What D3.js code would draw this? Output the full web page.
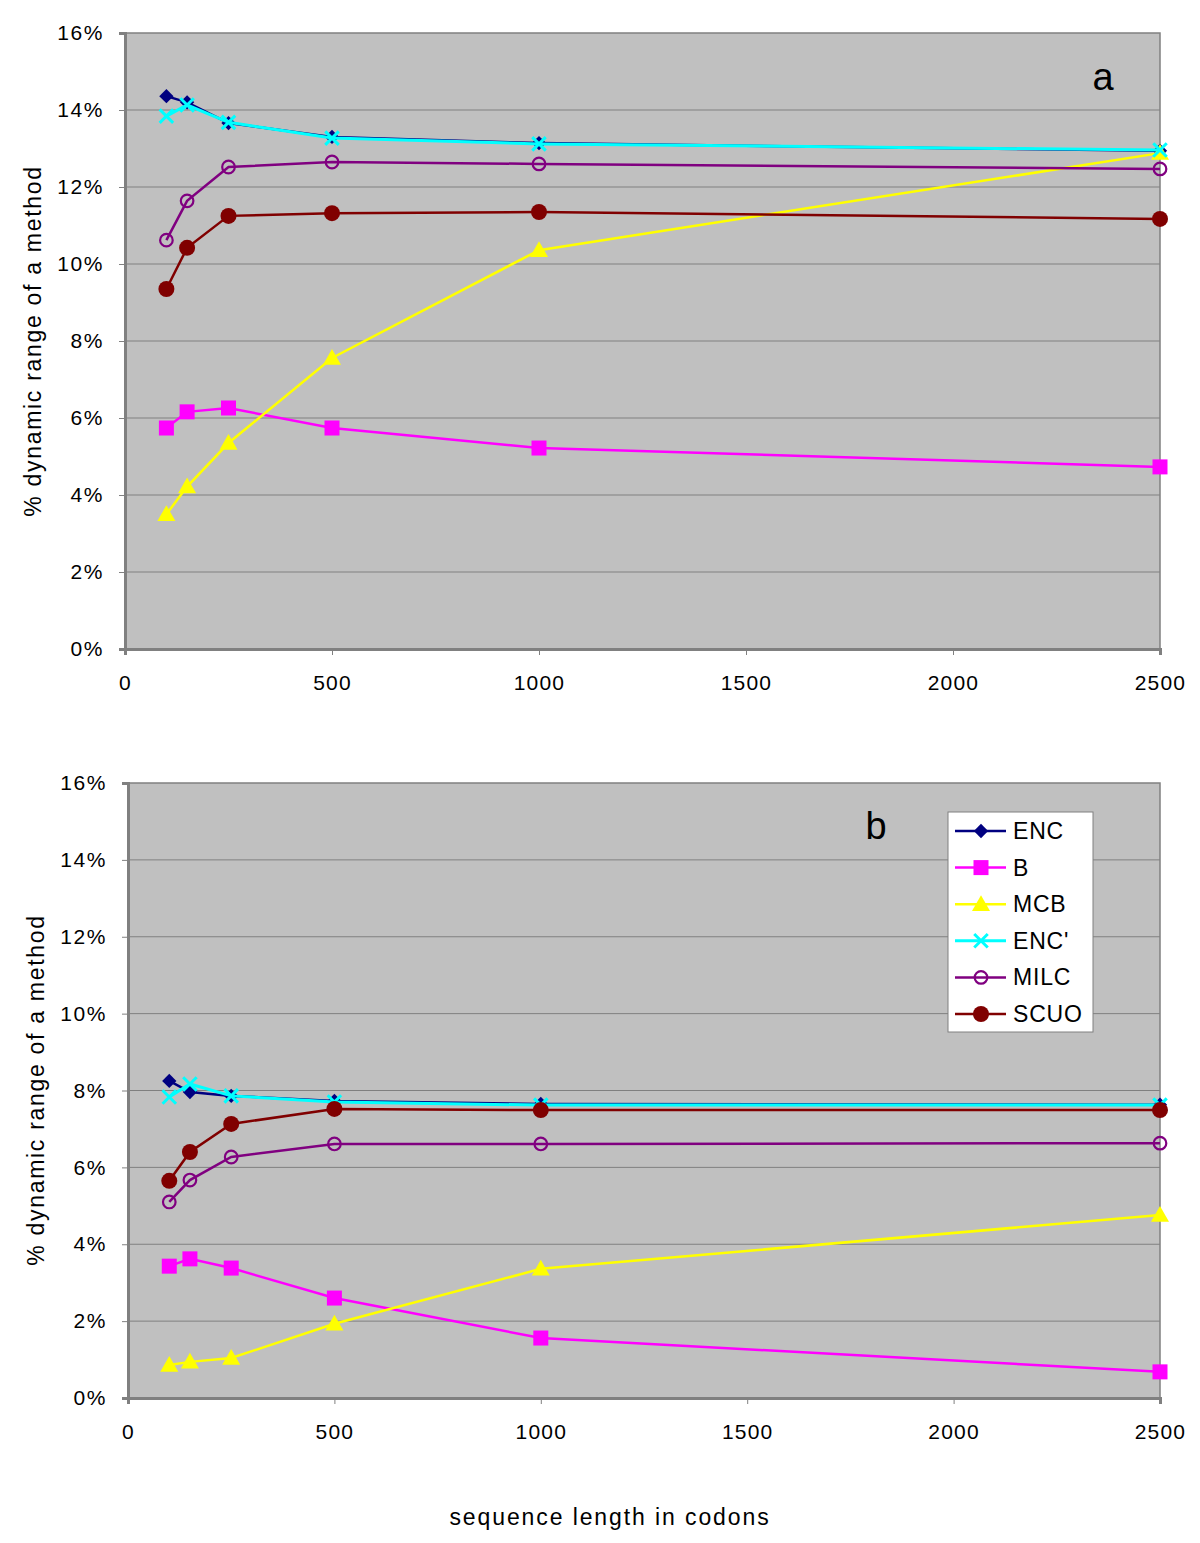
<!DOCTYPE html>
<html><head><meta charset="utf-8">
<script src="https://cdn.jsdelivr.net/npm/d3@7"></script>
<style>body{margin:0;background:#fff;} svg{display:block;font-family:"Liberation Sans",Arial,sans-serif;}</style>
</head><body>
<svg id="chart" width="1200" height="1543"></svg>
<script>
const xValues = [100, 150, 250, 500, 1000, 2500];
const xTicks = [0, 500, 1000, 1500, 2000, 2500];
const yTicks = [0, 2, 4, 6, 8, 10, 12, 14, 16];
const seriesNames = ["ENC", "B", "MCB", "ENC'", "MILC", "SCUO"];
const seriesColors = ["#000080", "#ff00ff", "#ffff00", "#00ffff", "#800080", "#800000"];
const seriesMarkers = ["diamond", "square", "triangle", "cross", "openCircle", "circle"];

// panel a values (%)
const encA  = [14.36, 14.20, 13.66, 13.30, 13.14, 12.94];
const bA    = [5.74, 6.16, 6.26, 5.74, 5.22, 4.73];
const mcbA  = [3.50, 4.22, 5.35, 7.56, 10.36, 12.88];
const encpA = [13.84, 14.13, 13.68, 13.27, 13.12, 12.96];
const milcA = [10.62, 11.64, 12.52, 12.65, 12.60, 12.47];
const scuoA = [9.35, 10.42, 11.25, 11.32, 11.35, 11.17];

// panel b values (%)
const encB  = [8.25, 7.96, 7.86, 7.73, 7.65, 7.63];
const bB    = [3.43, 3.62, 3.38, 2.60, 1.56, 0.68];
const mcbB  = [0.86, 0.94, 1.04, 1.93, 3.36, 4.76];
const encpB = [7.83, 8.17, 7.86, 7.70, 7.62, 7.62];
const milcB = [5.10, 5.67, 6.27, 6.61, 6.61, 6.63];
const scuoB = [5.65, 6.40, 7.13, 7.52, 7.49, 7.49];

const yTitle = "% dynamic range of a method";
const xTitle = "sequence length in codons";

const panels = [
  {label: "a", data: [encA, bA, mcbA, encpA, milcA, scuoA], box: {l:125, r:1160, t:33, b:649}, labelPos:[1103, 77], yTitlePos:[33, 341], legend:false},
  {label: "b", data: [encB, bB, mcbB, encpB, milcB, scuoB], box: {l:128, r:1160, t:783, b:1398}, labelPos:[876, 826], yTitlePos:[36, 1090], legend:true}
];

const svg = d3.select("#chart");
const FONT = "Liberation Sans, Arial, sans-serif";

function markerSize(type) {
  return type === "diamond" ? 13 : (type === "circle" ? 16 : (type === "openCircle" ? 15 : 15));
}

function drawMarker(g, type, x, y, color, s) {
  if (type === "diamond") {
    g.append("path").attr("d", `M${x},${y-s*0.55}L${x+s*0.55},${y}L${x},${y+s*0.55}L${x-s*0.55},${y}Z`).attr("fill", color);
  } else if (type === "square") {
    g.append("rect").attr("x", x - s*0.5).attr("y", y - s*0.5).attr("width", s).attr("height", s).attr("fill", color);
  } else if (type === "triangle") {
    g.append("path").attr("d", `M${x},${y-s*0.6}L${x+s*0.6},${y+s*0.45}L${x-s*0.6},${y+s*0.45}Z`).attr("fill", color);
  } else if (type === "cross") {
    const h = s*0.45;
    g.append("path").attr("d", `M${x-h},${y-h}L${x+h},${y+h}M${x-h},${y+h}L${x+h},${y-h}`).attr("stroke", color).attr("stroke-width", 3).attr("fill", "none");
  } else if (type === "openCircle") {
    g.append("circle").attr("cx", x).attr("cy", y).attr("r", s*0.42).attr("fill", "none").attr("stroke", color).attr("stroke-width", 2.2);
  } else if (type === "circle") {
    g.append("circle").attr("cx", x).attr("cy", y).attr("r", s*0.5).attr("fill", color);
  }
}

panels.forEach(p => {
  const B = p.box;
  const x = d3.scaleLinear().domain([0, 2500]).range([B.l, B.r]);
  const y = d3.scaleLinear().domain([0, 16]).range([B.b, B.t]);
  const g = svg.append("g");

  g.append("rect").attr("x", B.l).attr("y", B.t).attr("width", B.r - B.l).attr("height", B.b - B.t)
    .attr("fill", "#c0c0c0").attr("stroke", "#808080").attr("stroke-width", 1.5);

  g.append("g").selectAll("line").data(yTicks.slice(1, -1)).join("line")
    .attr("x1", B.l).attr("x2", B.r).attr("y1", d => y(d)).attr("y2", d => y(d))
    .attr("stroke", "#808080").attr("stroke-width", 1);

  const yAxis = d3.axisLeft(y).tickValues(yTicks).tickFormat(d => d + "%").tickSize(6).tickPadding(15);
  const ya = g.append("g").attr("transform", `translate(${B.l},0)`).call(yAxis);
  ya.select(".domain").attr("stroke", "#808080").attr("stroke-width", 3);
  ya.selectAll(".tick line").attr("stroke", "#808080");
  ya.selectAll("text").attr("font-size", 21).attr("letter-spacing", 1.6).attr("fill", "#000").attr("font-family", FONT);

  const xAxis = d3.axisBottom(x).tickValues(xTicks).tickFormat(d3.format("d")).tickSize(6).tickPadding(20);
  const xa = g.append("g").attr("transform", `translate(0,${B.b})`).call(xAxis);
  xa.select(".domain").attr("stroke", "#808080").attr("stroke-width", 3);
  xa.selectAll(".tick line").attr("stroke", "#808080");
  xa.selectAll("text").attr("font-size", 21).attr("letter-spacing", 1.2).attr("fill", "#000").attr("font-family", FONT);

  g.append("text").attr("transform", `translate(${p.yTitlePos[0]},${p.yTitlePos[1]}) rotate(-90)`)
    .attr("text-anchor", "middle").attr("dominant-baseline", "central").attr("font-size", 23).attr("letter-spacing", 1.7)
    .text(yTitle);

  g.append("text").attr("x", p.labelPos[0]).attr("y", p.labelPos[1]).attr("text-anchor", "middle")
    .attr("dominant-baseline", "central").attr("font-size", 38).text(p.label);

  const line = d3.line().x((d, i) => x(xValues[i])).y(d => y(d));
  p.data.forEach((vals, si) => {
    const sg = g.append("g");
    sg.append("path").datum(vals).attr("d", line).attr("fill", "none")
      .attr("stroke", seriesColors[si]).attr("stroke-width", si === 3 ? 3 : 2.5);
    vals.forEach((v, i) => {
      drawMarker(sg, seriesMarkers[si], x(xValues[i]), y(v), seriesColors[si], markerSize(seriesMarkers[si]));
    });
  });

  if (p.legend) {
    const lg = g.append("g");
    lg.append("rect").attr("x", 948).attr("y", 812).attr("width", 145).attr("height", 220)
      .attr("fill", "#fff").attr("stroke", "#808080").attr("stroke-width", 1);
    seriesNames.forEach((n, si) => {
      const ly = 831 + si * 36.6;
      lg.append("line").attr("x1", 955).attr("x2", 1006).attr("y1", ly).attr("y2", ly)
        .attr("stroke", seriesColors[si]).attr("stroke-width", si === 3 ? 3 : 2.5);
      drawMarker(lg, seriesMarkers[si], 981, ly, seriesColors[si], markerSize(seriesMarkers[si]));
      lg.append("text").attr("x", 1013).attr("y", ly).attr("dominant-baseline", "central")
        .attr("font-size", 23).attr("letter-spacing", 0.8).text(n);
    });
  }
});

svg.append("text").attr("x", 610).attr("y", 1517).attr("text-anchor", "middle").attr("dominant-baseline", "central")
  .attr("font-size", 23).attr("letter-spacing", 1.9).text(xTitle);
</script>
</body></html>
